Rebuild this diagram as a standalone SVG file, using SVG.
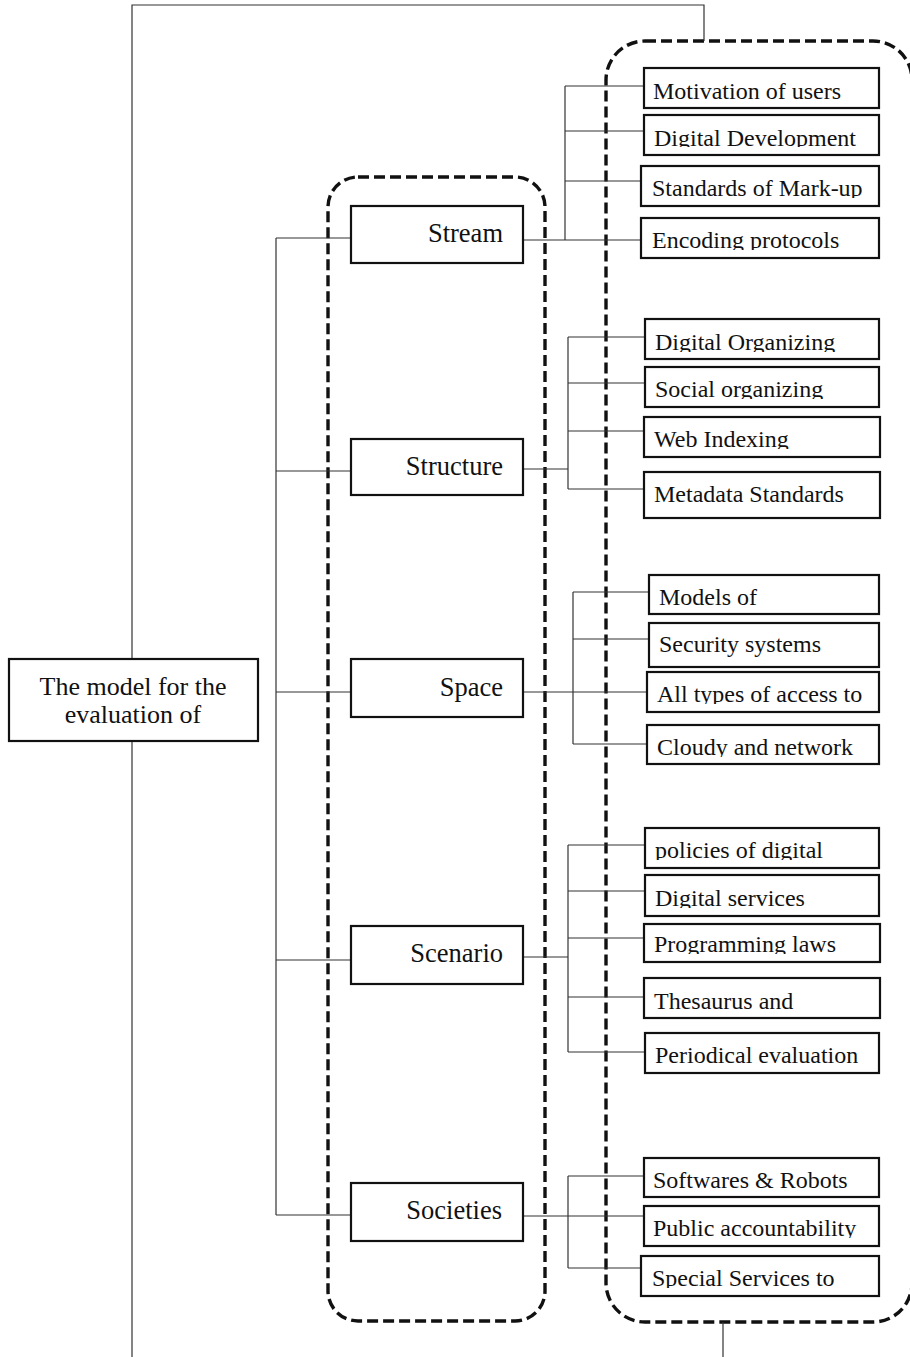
<svg xmlns="http://www.w3.org/2000/svg" width="910" height="1357" viewBox="0 0 910 1357">
<style>
.bg{fill:#fff}
.box{fill:#fff;stroke:#111;stroke-width:2.2}
.mid{fill:#fff;stroke:#111;stroke-width:2.2}
.ln{fill:none;stroke:#333;stroke-width:1.2}
.dash{fill:none;stroke:#111;stroke-width:3.4;stroke-dasharray:11 5}
.t{font-family:"Liberation Serif","Times New Roman",serif;fill:#111}
.r{font-size:24px}
.m{font-size:26.5px;text-anchor:end}
.c{font-size:26px;text-anchor:middle}
</style>
<defs>
<clipPath id="k2" clipPathUnits="userSpaceOnUse"><rect x="640" y="110" width="250" height="37"/></clipPath>
<clipPath id="k3" clipPathUnits="userSpaceOnUse"><rect x="640" y="160" width="250" height="38"/></clipPath>
<clipPath id="k4" clipPathUnits="userSpaceOnUse"><rect x="640" y="212" width="250" height="38"/></clipPath>
<clipPath id="s1" clipPathUnits="userSpaceOnUse"><rect x="640" y="315" width="250" height="37"/></clipPath>
<clipPath id="s2" clipPathUnits="userSpaceOnUse"><rect x="640" y="362" width="250" height="37"/></clipPath>
<clipPath id="s3" clipPathUnits="userSpaceOnUse"><rect x="640" y="412" width="250" height="37"/></clipPath>
<clipPath id="p3" clipPathUnits="userSpaceOnUse"><rect x="640" y="668" width="250" height="36"/></clipPath>
<clipPath id="p4" clipPathUnits="userSpaceOnUse"><rect x="640" y="720" width="250" height="37"/></clipPath>
<clipPath id="c1" clipPathUnits="userSpaceOnUse"><rect x="640" y="824" width="250" height="36"/></clipPath>
<clipPath id="c2" clipPathUnits="userSpaceOnUse"><rect x="640" y="870" width="250" height="38"/></clipPath>
<clipPath id="c3" clipPathUnits="userSpaceOnUse"><rect x="640" y="920" width="250" height="34"/></clipPath>
<clipPath id="o2" clipPathUnits="userSpaceOnUse"><rect x="640" y="1202" width="250" height="36"/></clipPath>
<clipPath id="o3" clipPathUnits="userSpaceOnUse"><rect x="640" y="1252" width="250" height="36"/></clipPath>
</defs>
<rect class="bg" x="0" y="0" width="910" height="1357"/>

<g id="groups">
<rect class="dash" x="328" y="177" width="217" height="1144" rx="30" ry="30"/>
<rect class="dash" x="606" y="41" width="306" height="1281" rx="39" ry="39"/>
</g>

<g id="connectors">
<polyline class="ln" points="132,659 132,5 704,5 704,41"/>
<line class="ln" x1="132" y1="741" x2="132" y2="1357"/>
<line class="ln" x1="723" y1="1322" x2="723" y2="1357"/>
<line class="ln" x1="276" y1="238" x2="276" y2="1215"/>
<line class="ln" x1="276" y1="238" x2="351" y2="238"/>
<line class="ln" x1="276" y1="471" x2="351" y2="471"/>
<line class="ln" x1="276" y1="692" x2="351" y2="692"/>
<line class="ln" x1="276" y1="960" x2="351" y2="960"/>
<line class="ln" x1="276" y1="1215" x2="351" y2="1215"/>
<!-- Stream -->
<line class="ln" x1="523" y1="240" x2="565" y2="240"/>
<line class="ln" x1="565" y1="86" x2="565" y2="240"/>
<line class="ln" x1="565" y1="86" x2="644" y2="86"/>
<line class="ln" x1="565" y1="131" x2="644" y2="131"/>
<line class="ln" x1="565" y1="181" x2="641" y2="181"/>
<line class="ln" x1="565" y1="240" x2="641" y2="240"/>
<!-- Structure -->
<line class="ln" x1="523" y1="469" x2="568" y2="469"/>
<line class="ln" x1="568" y1="337" x2="568" y2="489"/>
<line class="ln" x1="568" y1="337" x2="645" y2="337"/>
<line class="ln" x1="568" y1="383" x2="645" y2="383"/>
<line class="ln" x1="568" y1="431" x2="644" y2="431"/>
<line class="ln" x1="568" y1="489" x2="644" y2="489"/>
<!-- Space -->
<line class="ln" x1="523" y1="692" x2="573" y2="692"/>
<line class="ln" x1="573" y1="592" x2="573" y2="744"/>
<line class="ln" x1="573" y1="592" x2="649" y2="592"/>
<line class="ln" x1="573" y1="639" x2="649" y2="639"/>
<line class="ln" x1="573" y1="692" x2="647" y2="692"/>
<line class="ln" x1="573" y1="744" x2="647" y2="744"/>
<!-- Scenario -->
<line class="ln" x1="523" y1="957" x2="568" y2="957"/>
<line class="ln" x1="568" y1="845" x2="568" y2="1052"/>
<line class="ln" x1="568" y1="845" x2="645" y2="845"/>
<line class="ln" x1="568" y1="891" x2="645" y2="891"/>
<line class="ln" x1="568" y1="938" x2="644" y2="938"/>
<line class="ln" x1="568" y1="997" x2="644" y2="997"/>
<line class="ln" x1="568" y1="1052" x2="645" y2="1052"/>
<!-- Societies -->
<line class="ln" x1="523" y1="1216" x2="644" y2="1216"/>
<line class="ln" x1="568" y1="1176" x2="568" y2="1268"/>
<line class="ln" x1="568" y1="1176" x2="644" y2="1176"/>
<line class="ln" x1="568" y1="1268" x2="641" y2="1268"/>
</g>

<g id="root">
<rect class="box" x="9" y="659" width="249" height="82"/>
<text class="t c" x="133" y="695">The model for the</text>
<text class="t c" x="133" y="723">evaluation of</text>
</g>

<g id="stream"><rect class="mid" x="351" y="206" width="172" height="57"/><text class="t m" x="503" y="242">Stream</text></g>
<g id="structure"><rect class="mid" x="351" y="439" width="172" height="56"/><text class="t m" x="503" y="475">Structure</text></g>
<g id="space"><rect class="mid" x="351" y="659" width="172" height="58"/><text class="t m" x="503" y="696">Space</text></g>
<g id="scenario"><rect class="mid" x="351" y="926" width="172" height="58"/><text class="t m" x="503" y="962">Scenario</text></g>
<g id="societies"><rect class="mid" x="351" y="1183" width="172" height="58"/><text class="t m" x="502" y="1219">Societies</text></g>

<g id="stream-1"><rect class="box" x="644" y="68" width="235" height="40"/><text class="t r" x="653" y="99">Motivation of users</text></g>
<g id="stream-2"><rect class="box" x="644" y="115" width="235" height="40"/><text class="t r" x="654" y="146" clip-path="url(#k2)">Digital Development</text></g>
<g id="stream-3"><rect class="box" x="641" y="166" width="238" height="40"/><text class="t r" x="652" y="196" clip-path="url(#k3)">Standards of Mark-up</text></g>
<g id="stream-4"><rect class="box" x="641" y="218" width="238" height="40"/><text class="t r" x="652" y="248" clip-path="url(#k4)">Encoding protocols</text></g>

<g id="structure-1"><rect class="box" x="645" y="319" width="234" height="40"/><text class="t r" x="655" y="350" clip-path="url(#s1)">Digital Organizing</text></g>
<g id="structure-2"><rect class="box" x="645" y="367" width="234" height="40"/><text class="t r" x="655" y="397" clip-path="url(#s2)">Social organizing</text></g>
<g id="structure-3"><rect class="box" x="644" y="417" width="236" height="40"/><text class="t r" x="654" y="447" clip-path="url(#s3)">Web Indexing</text></g>
<g id="structure-4"><rect class="box" x="644" y="472" width="236" height="46"/><text class="t r" x="654" y="502">Metadata Standards</text></g>

<g id="space-1"><rect class="box" x="649" y="575" width="230" height="39"/><text class="t r" x="659" y="605">Models of</text></g>
<g id="space-2"><rect class="box" x="649" y="623" width="230" height="44"/><text class="t r" x="659" y="652">Security systems</text></g>
<g id="space-3"><rect class="box" x="647" y="672" width="232" height="40"/><text class="t r" x="657" y="702" clip-path="url(#p3)">All types of access to</text></g>
<g id="space-4"><rect class="box" x="647" y="725" width="232" height="39"/><text class="t r" x="657" y="755" clip-path="url(#p4)">Cloudy and network</text></g>

<g id="scenario-1"><rect class="box" x="645" y="828" width="234" height="40"/><text class="t r" x="655" y="858" clip-path="url(#c1)">policies of digital</text></g>
<g id="scenario-2"><rect class="box" x="645" y="875" width="234" height="41"/><text class="t r" x="655" y="906" clip-path="url(#c2)">Digital services</text></g>
<g id="scenario-3"><rect class="box" x="644" y="924" width="236" height="38"/><text class="t r" x="654" y="952" clip-path="url(#c3)">Programming laws</text></g>
<g id="scenario-4"><rect class="box" x="644" y="978" width="236" height="40"/><text class="t r" x="654" y="1009">Thesaurus and</text></g>
<g id="scenario-5"><rect class="box" x="645" y="1033" width="234" height="40"/><text class="t r" x="655" y="1063">Periodical evaluation</text></g>

<g id="societies-1"><rect class="box" x="644" y="1158" width="235" height="39"/><text class="t r" x="653" y="1188">Softwares &amp; Robots</text></g>
<g id="societies-2"><rect class="box" x="644" y="1206" width="235" height="40"/><text class="t r" x="653" y="1236" clip-path="url(#o2)">Public accountability</text></g>
<g id="societies-3"><rect class="box" x="641" y="1256" width="238" height="40"/><text class="t r" x="652" y="1286" clip-path="url(#o3)">Special Services to</text></g>
</svg>
